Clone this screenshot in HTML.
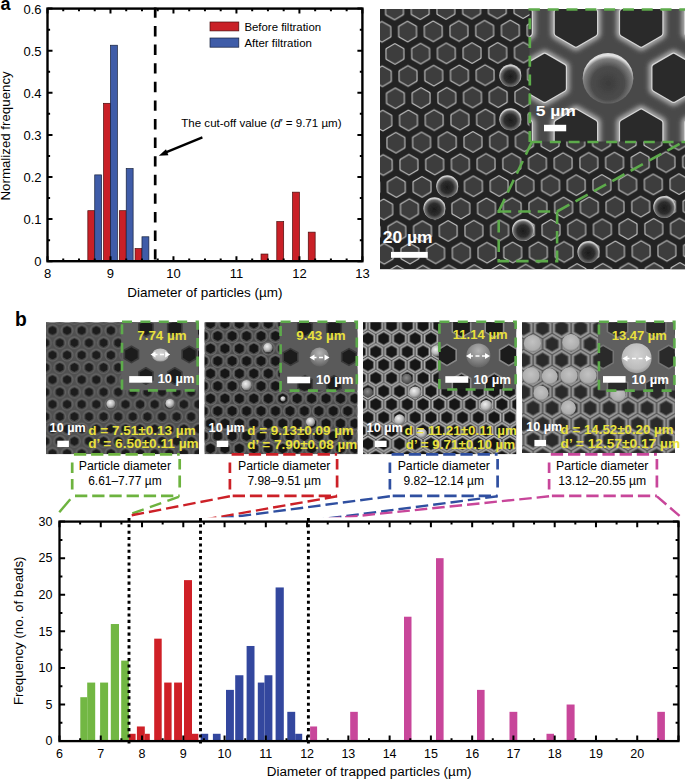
<!DOCTYPE html>
<html><head><meta charset="utf-8"><title>Figure</title>
<style>html,body{margin:0;padding:0;background:#fff}svg{display:block}text{font-family:'Liberation Sans',sans-serif}</style>
</head><body>
<svg width="685" height="780" viewBox="0 0 685 780">
<rect width="685" height="780" fill="#fff"/>
<defs>
<filter id="bl03" x="-5%" y="-5%" width="110%" height="110%"><feGaussianBlur stdDeviation="0.45"/></filter>
<filter id="bl06" x="-5%" y="-5%" width="110%" height="110%"><feGaussianBlur stdDeviation="0.6"/></filter>
<filter id="bl1" x="-5%" y="-5%" width="110%" height="110%"><feGaussianBlur stdDeviation="1.0"/></filter>
<filter id="bl2" x="-10%" y="-10%" width="120%" height="120%"><feGaussianBlur stdDeviation="2.0"/></filter>
<radialGradient id="ballA" cx="0.5" cy="0.55" r="0.5"><stop offset="0" stop-color="#1c1c1c"/><stop offset="0.55" stop-color="#2e2e2e"/><stop offset="0.85" stop-color="#6a6a6a"/><stop offset="1" stop-color="#d0d0d0"/></radialGradient>
<radialGradient id="ballIn" cx="0.5" cy="0.6" r="0.55"><stop offset="0" stop-color="#3c3c3c"/><stop offset="0.6" stop-color="#4c4c4c"/><stop offset="0.88" stop-color="#808080"/><stop offset="1" stop-color="#e0e0e0"/></radialGradient>
<radialGradient id="ballW" cx="0.4" cy="0.35" r="0.65"><stop offset="0" stop-color="#f0f0f0"/><stop offset="0.6" stop-color="#b8b8b8"/><stop offset="1" stop-color="#6a6a6a"/></radialGradient>
<radialGradient id="ballM" cx="0.5" cy="0.3" r="0.75"><stop offset="0" stop-color="#b4b4b4"/><stop offset="0.5" stop-color="#8c8c8c"/><stop offset="1" stop-color="#5c5c5c"/></radialGradient>
<radialGradient id="ballH" cx="0.5" cy="0.4" r="0.65"><stop offset="0" stop-color="#d4d4d4"/><stop offset="0.7" stop-color="#bcbcbc"/><stop offset="1" stop-color="#8a8a8a"/></radialGradient>
<radialGradient id="ballG" cx="0.45" cy="0.4" r="0.6"><stop offset="0" stop-color="#8a8a8a"/><stop offset="1" stop-color="#4a4a4a"/></radialGradient>
<radialGradient id="ballL" cx="0.5" cy="0.4" r="0.6"><stop offset="0" stop-color="#c2c2c2"/><stop offset="0.8" stop-color="#adadad"/><stop offset="1" stop-color="#808080"/></radialGradient>
<radialGradient id="hole1" cx="0.5" cy="0.5" r="0.5"><stop offset="0" stop-color="#161616"/><stop offset="0.6" stop-color="#1c1c1c"/><stop offset="0.78" stop-color="#484848"/><stop offset="1" stop-color="#6a6a6a" stop-opacity="0"/></radialGradient>
<pattern id="patA" patternUnits="userSpaceOnUse" x="394.50" y="9.50" width="25.70" height="44.40" patternTransform="rotate(-0.6 394.5 9.5)">
<polygon points="0.00,-9.50 -8.23,-4.75 -8.23,4.75 -0.00,9.50 8.23,4.75 8.23,-4.75" fill="none" stroke="#c0c0c0" stroke-width="2.55" stroke-linejoin="round"/><polygon points="0.00,-8.30 -7.19,-4.15 -7.19,4.15 -0.00,8.30 7.19,4.15 7.19,-4.15" fill="#3c3c3c" stroke="#3c3c3c" stroke-width="2.4" stroke-linejoin="round"/>
<polygon points="25.70,-9.50 17.47,-4.75 17.47,4.75 25.70,9.50 33.93,4.75 33.93,-4.75" fill="none" stroke="#c0c0c0" stroke-width="2.55" stroke-linejoin="round"/><polygon points="25.70,-8.30 18.51,-4.15 18.51,4.15 25.70,8.30 32.89,4.15 32.89,-4.15" fill="#3c3c3c" stroke="#3c3c3c" stroke-width="2.4" stroke-linejoin="round"/>
<polygon points="12.85,12.70 4.62,17.45 4.62,26.95 12.85,31.70 21.08,26.95 21.08,17.45" fill="none" stroke="#c0c0c0" stroke-width="2.55" stroke-linejoin="round"/><polygon points="12.85,13.90 5.66,18.05 5.66,26.35 12.85,30.50 20.04,26.35 20.04,18.05" fill="#3c3c3c" stroke="#3c3c3c" stroke-width="2.4" stroke-linejoin="round"/>
<polygon points="0.00,34.90 -8.23,39.65 -8.23,49.15 -0.00,53.90 8.23,49.15 8.23,39.65" fill="none" stroke="#c0c0c0" stroke-width="2.55" stroke-linejoin="round"/><polygon points="0.00,36.10 -7.19,40.25 -7.19,48.55 -0.00,52.70 7.19,48.55 7.19,40.25" fill="#3c3c3c" stroke="#3c3c3c" stroke-width="2.4" stroke-linejoin="round"/>
<polygon points="25.70,34.90 17.47,39.65 17.47,49.15 25.70,53.90 33.93,49.15 33.93,39.65" fill="none" stroke="#c0c0c0" stroke-width="2.55" stroke-linejoin="round"/><polygon points="25.70,36.10 18.51,40.25 18.51,48.55 25.70,52.70 32.89,48.55 32.89,40.25" fill="#3c3c3c" stroke="#3c3c3c" stroke-width="2.4" stroke-linejoin="round"/>
</pattern>
<pattern id="patB1" patternUnits="userSpaceOnUse" x="52.50" y="330.50" width="14.60" height="24.60">
<circle cx="0.00" cy="0.00" r="6.4" fill="#666666"/><circle cx="0.00" cy="0.30" r="5.2" fill="#4a4a4a"/><polygon points="0.00,-4.40 -3.81,-2.20 -3.81,2.20 -0.00,4.40 3.81,2.20 3.81,-2.20" fill="#1b1b1b"/>
<circle cx="14.60" cy="0.00" r="6.4" fill="#666666"/><circle cx="14.60" cy="0.30" r="5.2" fill="#4a4a4a"/><polygon points="14.60,-4.40 10.79,-2.20 10.79,2.20 14.60,4.40 18.41,2.20 18.41,-2.20" fill="#1b1b1b"/>
<circle cx="7.30" cy="12.30" r="6.4" fill="#666666"/><circle cx="7.30" cy="12.60" r="5.2" fill="#4a4a4a"/><polygon points="7.30,7.90 3.49,10.10 3.49,14.50 7.30,16.70 11.11,14.50 11.11,10.10" fill="#1b1b1b"/>
<circle cx="0.00" cy="24.60" r="6.4" fill="#666666"/><circle cx="0.00" cy="24.90" r="5.2" fill="#4a4a4a"/><polygon points="0.00,20.20 -3.81,22.40 -3.81,26.80 -0.00,29.00 3.81,26.80 3.81,22.40" fill="#1b1b1b"/>
<circle cx="14.60" cy="24.60" r="6.4" fill="#666666"/><circle cx="14.60" cy="24.90" r="5.2" fill="#4a4a4a"/><polygon points="14.60,20.20 10.79,22.40 10.79,26.80 14.60,29.00 18.41,26.80 18.41,22.40" fill="#1b1b1b"/>
</pattern>
<pattern id="patB2" patternUnits="userSpaceOnUse" x="217.70" y="336.00" width="14.45" height="25.00">
<circle cx="0.00" cy="0.00" r="6.9" fill="#6c6c6c"/><circle cx="0.00" cy="0.30" r="5.6" fill="#4c4c4c"/><polygon points="0.00,-4.90 -4.24,-2.45 -4.24,2.45 -0.00,4.90 4.24,2.45 4.24,-2.45" fill="#151515"/>
<circle cx="14.45" cy="0.00" r="6.9" fill="#6c6c6c"/><circle cx="14.45" cy="0.30" r="5.6" fill="#4c4c4c"/><polygon points="14.45,-4.90 10.21,-2.45 10.21,2.45 14.45,4.90 18.69,2.45 18.69,-2.45" fill="#151515"/>
<circle cx="7.22" cy="12.50" r="6.9" fill="#6c6c6c"/><circle cx="7.22" cy="12.80" r="5.6" fill="#4c4c4c"/><polygon points="7.22,7.60 2.98,10.05 2.98,14.95 7.22,17.40 11.47,14.95 11.47,10.05" fill="#151515"/>
<circle cx="0.00" cy="25.00" r="6.9" fill="#6c6c6c"/><circle cx="0.00" cy="25.30" r="5.6" fill="#4c4c4c"/><polygon points="0.00,20.10 -4.24,22.55 -4.24,27.45 -0.00,29.90 4.24,27.45 4.24,22.55" fill="#151515"/>
<circle cx="14.45" cy="25.00" r="6.9" fill="#6c6c6c"/><circle cx="14.45" cy="25.30" r="5.6" fill="#4c4c4c"/><polygon points="14.45,20.10 10.21,22.55 10.21,27.45 14.45,29.90 18.69,27.45 18.69,22.55" fill="#151515"/>
</pattern>
<pattern id="patB3" patternUnits="userSpaceOnUse" x="367.90" y="338.60" width="15.77" height="26.30">
<polygon points="0.00,-8.50 -7.36,-4.25 -7.36,4.25 -0.00,8.50 7.36,4.25 7.36,-4.25" fill="#b2b2b2"/><polygon points="0.00,-6.30 -5.46,-3.15 -5.46,3.15 -0.00,6.30 5.46,3.15 5.46,-3.15" fill="#121212" stroke="#5a5a5a" stroke-width="0.8"/>
<polygon points="15.77,-8.50 8.41,-4.25 8.41,4.25 15.77,8.50 23.13,4.25 23.13,-4.25" fill="#b2b2b2"/><polygon points="15.77,-6.30 10.31,-3.15 10.31,3.15 15.77,6.30 21.23,3.15 21.23,-3.15" fill="#121212" stroke="#5a5a5a" stroke-width="0.8"/>
<polygon points="7.89,4.65 0.52,8.90 0.52,17.40 7.88,21.65 15.25,17.40 15.25,8.90" fill="#b2b2b2"/><polygon points="7.88,6.85 2.43,10.00 2.43,16.30 7.88,19.45 13.34,16.30 13.34,10.00" fill="#121212" stroke="#5a5a5a" stroke-width="0.8"/>
<polygon points="0.00,17.80 -7.36,22.05 -7.36,30.55 -0.00,34.80 7.36,30.55 7.36,22.05" fill="#b2b2b2"/><polygon points="0.00,20.00 -5.46,23.15 -5.46,29.45 -0.00,32.60 5.46,29.45 5.46,23.15" fill="#121212" stroke="#5a5a5a" stroke-width="0.8"/>
<polygon points="15.77,17.80 8.41,22.05 8.41,30.55 15.77,34.80 23.13,30.55 23.13,22.05" fill="#b2b2b2"/><polygon points="15.77,20.00 10.31,23.15 10.31,29.45 15.77,32.60 21.23,29.45 21.23,23.15" fill="#121212" stroke="#5a5a5a" stroke-width="0.8"/>
</pattern>
<pattern id="patB4" patternUnits="userSpaceOnUse" x="523.60" y="328.10" width="19.00" height="32.00">
<polygon points="0.00,-10.20 -8.83,-5.10 -8.83,5.10 -0.00,10.20 8.83,5.10 8.83,-5.10" fill="#989898"/><polygon points="0.00,-7.40 -6.41,-3.70 -6.41,3.70 -0.00,7.40 6.41,3.70 6.41,-3.70" fill="#2c2c2c" stroke="#5c5c5c" stroke-width="1"/>
<polygon points="19.00,-10.20 10.17,-5.10 10.17,5.10 19.00,10.20 27.83,5.10 27.83,-5.10" fill="#989898"/><polygon points="19.00,-7.40 12.59,-3.70 12.59,3.70 19.00,7.40 25.41,3.70 25.41,-3.70" fill="#2c2c2c" stroke="#5c5c5c" stroke-width="1"/>
<polygon points="9.50,5.80 0.67,10.90 0.67,21.10 9.50,26.20 18.33,21.10 18.33,10.90" fill="#989898"/><polygon points="9.50,8.60 3.09,12.30 3.09,19.70 9.50,23.40 15.91,19.70 15.91,12.30" fill="#2c2c2c" stroke="#5c5c5c" stroke-width="1"/>
<polygon points="0.00,21.80 -8.83,26.90 -8.83,37.10 -0.00,42.20 8.83,37.10 8.83,26.90" fill="#989898"/><polygon points="0.00,24.60 -6.41,28.30 -6.41,35.70 -0.00,39.40 6.41,35.70 6.41,28.30" fill="#2c2c2c" stroke="#5c5c5c" stroke-width="1"/>
<polygon points="19.00,21.80 10.17,26.90 10.17,37.10 19.00,42.20 27.83,37.10 27.83,26.90" fill="#989898"/><polygon points="19.00,24.60 12.59,28.30 12.59,35.70 19.00,39.40 25.41,35.70 25.41,28.30" fill="#2c2c2c" stroke="#5c5c5c" stroke-width="1"/>
</pattern>
</defs>
<g id="chartA">
<rect x="87.83" y="210.68" width="6.9" height="50.52" fill="#c92027" stroke="#4a0c0c" stroke-width="0.7"/>
<rect x="103.58" y="103.32" width="6.9" height="157.88" fill="#c92027" stroke="#4a0c0c" stroke-width="0.7"/>
<rect x="119.32" y="210.68" width="6.9" height="50.52" fill="#c92027" stroke="#4a0c0c" stroke-width="0.7"/>
<rect x="135.07" y="248.57" width="6.9" height="12.63" fill="#c92027" stroke="#4a0c0c" stroke-width="0.7"/>
<rect x="261.03" y="254.04" width="6.9" height="7.16" fill="#c92027" stroke="#4a0c0c" stroke-width="0.7"/>
<rect x="276.78" y="221.63" width="6.9" height="39.57" fill="#c92027" stroke="#4a0c0c" stroke-width="0.7"/>
<rect x="292.52" y="192.16" width="6.9" height="69.04" fill="#c92027" stroke="#4a0c0c" stroke-width="0.7"/>
<rect x="308.26" y="232.15" width="6.9" height="29.05" fill="#c92027" stroke="#4a0c0c" stroke-width="0.7"/>
<rect x="94.73" y="174.89" width="6.9" height="86.31" fill="#3f5ca8" stroke="#16203c" stroke-width="0.7"/>
<rect x="110.48" y="45.23" width="6.9" height="215.97" fill="#3f5ca8" stroke="#16203c" stroke-width="0.7"/>
<rect x="126.22" y="168.58" width="6.9" height="92.62" fill="#3f5ca8" stroke="#16203c" stroke-width="0.7"/>
<rect x="141.97" y="236.78" width="6.9" height="24.42" fill="#3f5ca8" stroke="#16203c" stroke-width="0.7"/>
<path d="M47.50,261.2v-5M47.50,8.6v5M63.24,261.2v-2.6M63.24,8.6v2.6M78.99,261.2v-2.6M78.99,8.6v2.6M94.73,261.2v-2.6M94.73,8.6v2.6M110.48,261.2v-5M110.48,8.6v5M126.22,261.2v-2.6M126.22,8.6v2.6M141.97,261.2v-2.6M141.97,8.6v2.6M157.71,261.2v-2.6M157.71,8.6v2.6M173.46,261.2v-5M173.46,8.6v5M189.20,261.2v-2.6M189.20,8.6v2.6M204.95,261.2v-2.6M204.95,8.6v2.6M220.69,261.2v-2.6M220.69,8.6v2.6M236.44,261.2v-5M236.44,8.6v5M252.19,261.2v-2.6M252.19,8.6v2.6M267.93,261.2v-2.6M267.93,8.6v2.6M283.68,261.2v-2.6M283.68,8.6v2.6M299.42,261.2v-5M299.42,8.6v5M315.16,261.2v-2.6M315.16,8.6v2.6M330.91,261.2v-2.6M330.91,8.6v2.6M346.65,261.2v-2.6M346.65,8.6v2.6M362.40,261.2v-5M362.40,8.6v5M47.5,261.20h5M362.4,261.20h-5M47.5,240.15h2.6M362.4,240.15h-2.6M47.5,219.10h5M362.4,219.10h-5M47.5,198.05h2.6M362.4,198.05h-2.6M47.5,177.00h5M362.4,177.00h-5M47.5,155.95h2.6M362.4,155.95h-2.6M47.5,134.90h5M362.4,134.90h-5M47.5,113.85h2.6M362.4,113.85h-2.6M47.5,92.80h5M362.4,92.80h-5M47.5,71.75h2.6M362.4,71.75h-2.6M47.5,50.70h5M362.4,50.70h-5M47.5,29.65h2.6M362.4,29.65h-2.6M47.5,8.60h5M362.4,8.60h-5" stroke="#000" stroke-width="2" fill="none"/>
<rect x="47.5" y="8.6" width="314.90" height="252.60" fill="none" stroke="#000" stroke-width="2.4"/>
<line x1="155.20" y1="7.4" x2="155.20" y2="261.2" stroke="#000" stroke-width="2.7" stroke-dasharray="10.4 8.2"/>
<text x="41.5" y="266.10" font-size="13" text-anchor="end">0</text>
<text x="41.5" y="224.00" font-size="13" text-anchor="end">0.1</text>
<text x="41.5" y="181.90" font-size="13" text-anchor="end">0.2</text>
<text x="41.5" y="139.80" font-size="13" text-anchor="end">0.3</text>
<text x="41.5" y="97.70" font-size="13" text-anchor="end">0.4</text>
<text x="41.5" y="55.60" font-size="13" text-anchor="end">0.5</text>
<text x="41.5" y="13.50" font-size="13" text-anchor="end">0.6</text>
<text x="47.50" y="278.4" font-size="13" text-anchor="middle">8</text>
<text x="110.48" y="278.4" font-size="13" text-anchor="middle">9</text>
<text x="173.46" y="278.4" font-size="13" text-anchor="middle">10</text>
<text x="236.44" y="278.4" font-size="13" text-anchor="middle">11</text>
<text x="299.42" y="278.4" font-size="13" text-anchor="middle">12</text>
<text x="362.40" y="278.4" font-size="13" text-anchor="middle">13</text>
<text x="204.9" y="296.5" font-size="13" text-anchor="middle" textLength="155.3" lengthAdjust="spacingAndGlyphs">Diameter of particles (µm)</text>
<text transform="translate(9.8,135.9) rotate(-90)" font-size="12.5" text-anchor="middle" textLength="129.2" lengthAdjust="spacingAndGlyphs">Normalized frequency</text>
<rect x="210" y="22" width="28.8" height="8.9" fill="#c92027" stroke="#4a0c0c" stroke-width="0.7"/>
<rect x="210" y="38" width="28.8" height="9.2" fill="#3f5ca8" stroke="#16203c" stroke-width="0.7"/>
<text x="244.4" y="30.9" font-size="11.5" textLength="76.7" lengthAdjust="spacingAndGlyphs">Before filtration</text>
<text x="244.4" y="47" font-size="11.5" textLength="67.5" lengthAdjust="spacingAndGlyphs">After filtration</text>
<text x="181.3" y="127.3" font-size="11.5" textLength="160.2" lengthAdjust="spacingAndGlyphs">The cut-off value (<tspan font-style="italic">d</tspan>′ = 9.71 µm)</text>
<line x1="202.4" y1="137.4" x2="164" y2="153.1" stroke="#000" stroke-width="2.3"/>
<polygon points="158.8,155.8 166.0,149.2 168.4,155.2" fill="#000"/>
<text x="0.6" y="10.3" font-size="18" font-weight="bold">a</text>
</g>
<g id="semA">
<clipPath id="clipA"><rect x="380" y="9" width="305" height="260.4"/></clipPath>
<g clip-path="url(#clipA)">
<rect x="380" y="9" width="305" height="260.4" fill="#232323"/>
<g filter="url(#bl03)">
<rect x="380" y="9" width="305" height="260.4" fill="url(#patA)"/>
<circle cx="510.3" cy="75.6" r="11" fill="url(#ballA)"/>
<circle cx="510.3" cy="119.2" r="11" fill="url(#ballA)"/>
<circle cx="447.2" cy="186.2" r="11" fill="url(#ballA)"/>
<circle cx="434.4" cy="208.3" r="11" fill="url(#ballA)"/>
<circle cx="523.1" cy="229.9" r="11" fill="url(#ballA)"/>
<circle cx="588.4" cy="252" r="11" fill="url(#ballA)"/>
<circle cx="664.3" cy="206.9" r="11" fill="url(#ballA)"/>
</g>
<clipPath id="clipAi"><rect x="529.5" y="9" width="156" height="132.6"/></clipPath>
<g clip-path="url(#clipAi)"><g filter="url(#bl06)">
<rect x="520" y="0" width="170" height="150" fill="#4a4a4a"/>
<g filter="url(#bl2)">
<polygon points="575.90,1.10 557.28,11.85 557.28,33.35 575.90,44.10 594.52,33.35 594.52,11.85" fill="#2b2b2b" stroke="#a8a8a8" stroke-width="13" stroke-linejoin="round"/>
<polygon points="641.20,1.10 622.58,11.85 622.58,33.35 641.20,44.10 659.82,33.35 659.82,11.85" fill="#2b2b2b" stroke="#a8a8a8" stroke-width="13" stroke-linejoin="round"/>
<polygon points="544.70,56.30 526.08,67.05 526.08,88.55 544.70,99.30 563.32,88.55 563.32,67.05" fill="#2b2b2b" stroke="#a8a8a8" stroke-width="13" stroke-linejoin="round"/>
<polygon points="673.60,56.30 654.98,67.05 654.98,88.55 673.60,99.30 692.22,88.55 692.22,67.05" fill="#2b2b2b" stroke="#a8a8a8" stroke-width="13" stroke-linejoin="round"/>
<polygon points="575.90,112.10 557.28,122.85 557.28,144.35 575.90,155.10 594.52,144.35 594.52,122.85" fill="#2b2b2b" stroke="#a8a8a8" stroke-width="13" stroke-linejoin="round"/>
<polygon points="641.20,112.10 622.58,122.85 622.58,144.35 641.20,155.10 659.82,144.35 659.82,122.85" fill="#2b2b2b" stroke="#a8a8a8" stroke-width="13" stroke-linejoin="round"/>
<polygon points="510.60,1.10 491.98,11.85 491.98,33.35 510.60,44.10 529.22,33.35 529.22,11.85" fill="#2b2b2b" stroke="#a8a8a8" stroke-width="13" stroke-linejoin="round"/>
<polygon points="510.60,112.10 491.98,122.85 491.98,144.35 510.60,155.10 529.22,144.35 529.22,122.85" fill="#2b2b2b" stroke="#a8a8a8" stroke-width="13" stroke-linejoin="round"/>
<polygon points="706.50,1.10 687.88,11.85 687.88,33.35 706.50,44.10 725.12,33.35 725.12,11.85" fill="#2b2b2b" stroke="#a8a8a8" stroke-width="13" stroke-linejoin="round"/>
<polygon points="706.50,112.10 687.88,122.85 687.88,144.35 706.50,155.10 725.12,144.35 725.12,122.85" fill="#2b2b2b" stroke="#a8a8a8" stroke-width="13" stroke-linejoin="round"/>
</g>
<polygon points="575.90,1.10 557.28,11.85 557.28,33.35 575.90,44.10 594.52,33.35 594.52,11.85" fill="#2b2b2b" stroke="#d6d6d6" stroke-width="7.4" stroke-linejoin="round"/>
<polygon points="575.90,1.10 557.28,11.85 557.28,33.35 575.90,44.10 594.52,33.35 594.52,11.85" fill="#2b2b2b" stroke="#2b2b2b" stroke-width="5.0" stroke-linejoin="round"/>
<polygon points="641.20,1.10 622.58,11.85 622.58,33.35 641.20,44.10 659.82,33.35 659.82,11.85" fill="#2b2b2b" stroke="#d6d6d6" stroke-width="7.4" stroke-linejoin="round"/>
<polygon points="641.20,1.10 622.58,11.85 622.58,33.35 641.20,44.10 659.82,33.35 659.82,11.85" fill="#2b2b2b" stroke="#2b2b2b" stroke-width="5.0" stroke-linejoin="round"/>
<polygon points="544.70,56.30 526.08,67.05 526.08,88.55 544.70,99.30 563.32,88.55 563.32,67.05" fill="#2b2b2b" stroke="#d6d6d6" stroke-width="7.4" stroke-linejoin="round"/>
<polygon points="544.70,56.30 526.08,67.05 526.08,88.55 544.70,99.30 563.32,88.55 563.32,67.05" fill="#2b2b2b" stroke="#2b2b2b" stroke-width="5.0" stroke-linejoin="round"/>
<polygon points="673.60,56.30 654.98,67.05 654.98,88.55 673.60,99.30 692.22,88.55 692.22,67.05" fill="#2b2b2b" stroke="#d6d6d6" stroke-width="7.4" stroke-linejoin="round"/>
<polygon points="673.60,56.30 654.98,67.05 654.98,88.55 673.60,99.30 692.22,88.55 692.22,67.05" fill="#2b2b2b" stroke="#2b2b2b" stroke-width="5.0" stroke-linejoin="round"/>
<polygon points="575.90,112.10 557.28,122.85 557.28,144.35 575.90,155.10 594.52,144.35 594.52,122.85" fill="#2b2b2b" stroke="#d6d6d6" stroke-width="7.4" stroke-linejoin="round"/>
<polygon points="575.90,112.10 557.28,122.85 557.28,144.35 575.90,155.10 594.52,144.35 594.52,122.85" fill="#2b2b2b" stroke="#2b2b2b" stroke-width="5.0" stroke-linejoin="round"/>
<polygon points="641.20,112.10 622.58,122.85 622.58,144.35 641.20,155.10 659.82,144.35 659.82,122.85" fill="#2b2b2b" stroke="#d6d6d6" stroke-width="7.4" stroke-linejoin="round"/>
<polygon points="641.20,112.10 622.58,122.85 622.58,144.35 641.20,155.10 659.82,144.35 659.82,122.85" fill="#2b2b2b" stroke="#2b2b2b" stroke-width="5.0" stroke-linejoin="round"/>
<polygon points="510.60,1.10 491.98,11.85 491.98,33.35 510.60,44.10 529.22,33.35 529.22,11.85" fill="#2b2b2b" stroke="#d6d6d6" stroke-width="7.4" stroke-linejoin="round"/>
<polygon points="510.60,1.10 491.98,11.85 491.98,33.35 510.60,44.10 529.22,33.35 529.22,11.85" fill="#2b2b2b" stroke="#2b2b2b" stroke-width="5.0" stroke-linejoin="round"/>
<polygon points="510.60,112.10 491.98,122.85 491.98,144.35 510.60,155.10 529.22,144.35 529.22,122.85" fill="#2b2b2b" stroke="#d6d6d6" stroke-width="7.4" stroke-linejoin="round"/>
<polygon points="510.60,112.10 491.98,122.85 491.98,144.35 510.60,155.10 529.22,144.35 529.22,122.85" fill="#2b2b2b" stroke="#2b2b2b" stroke-width="5.0" stroke-linejoin="round"/>
<polygon points="706.50,1.10 687.88,11.85 687.88,33.35 706.50,44.10 725.12,33.35 725.12,11.85" fill="#2b2b2b" stroke="#d6d6d6" stroke-width="7.4" stroke-linejoin="round"/>
<polygon points="706.50,1.10 687.88,11.85 687.88,33.35 706.50,44.10 725.12,33.35 725.12,11.85" fill="#2b2b2b" stroke="#2b2b2b" stroke-width="5.0" stroke-linejoin="round"/>
<polygon points="706.50,112.10 687.88,122.85 687.88,144.35 706.50,155.10 725.12,144.35 725.12,122.85" fill="#2b2b2b" stroke="#d6d6d6" stroke-width="7.4" stroke-linejoin="round"/>
<polygon points="706.50,112.10 687.88,122.85 687.88,144.35 706.50,155.10 725.12,144.35 725.12,122.85" fill="#2b2b2b" stroke="#2b2b2b" stroke-width="5.0" stroke-linejoin="round"/>
<circle cx="608" cy="78.3" r="25.3" fill="url(#ballIn)"/>
</g></g>
</g>
<path d="M529.8,142V9.5H686M531,142H686" fill="none" stroke="#5dab4b" stroke-width="2.7" stroke-dasharray="11 7.8"/>
<path d="M498.7,211.5H557.1V261.1H498.7Z" fill="none" stroke="#5dab4b" stroke-width="2.6" stroke-dasharray="12.5 7"/>
<path d="M498.7,211.5L531.7,142.3M557.1,211.5L685,140.8" fill="none" stroke="#5dab4b" stroke-width="2.6" stroke-dasharray="14 7"/>
<text x="382.8" y="243.4" font-size="16.5" font-weight="bold" fill="#fff" textLength="49.8" lengthAdjust="spacingAndGlyphs">20 µm</text>
<rect x="391" y="251.9" width="36.7" height="5.9" fill="#fff"/>
<text x="535.7" y="115.8" font-size="14.5" font-weight="bold" fill="#fff" textLength="40.2" lengthAdjust="spacingAndGlyphs">5 µm</text>
<rect x="544" y="124.8" width="22.2" height="6.5" fill="#fff"/>
</g>
<text x="15.0" y="326.1" font-size="19.3" font-weight="bold">b</text>
<g id="semB1">
<clipPath id="clipB1"><rect x="46" y="322.2" width="153.0" height="132.0"/></clipPath>
<g clip-path="url(#clipB1)">
<rect x="46" y="322.2" width="153.0" height="132.0" fill="#505050"/>
<g filter="url(#bl06)">
<rect x="46" y="322.2" width="153.0" height="132.0" fill="url(#patB1)"/>
<circle cx="111" cy="404" r="4.6" fill="url(#ballW)"/>
<circle cx="170" cy="403.6" r="4.6" fill="url(#ballW)"/>
</g>
<clipPath id="clipI1"><rect x="121.2" y="321.5" width="76.8" height="68.7"/></clipPath>
<g clip-path="url(#clipI1)"><g filter="url(#bl06)">
<rect x="118.2" y="318.5" width="82.8" height="74.7" fill="#5e5e5e"/>
<polygon points="131.40,346.20 124.30,350.30 124.30,358.50 131.40,362.60 138.50,358.50 138.50,350.30" fill="#1e1e1e" stroke="#3a3a3a" stroke-width="1.6" stroke-linejoin="round"/>
<polygon points="189.20,346.20 182.10,350.30 182.10,358.50 189.20,362.60 196.30,358.50 196.30,350.30" fill="#1e1e1e" stroke="#3a3a3a" stroke-width="1.6" stroke-linejoin="round"/>
<polygon points="145.90,319.80 138.80,323.90 138.80,332.10 145.90,336.20 153.00,332.10 153.00,323.90" fill="#1e1e1e" stroke="#3a3a3a" stroke-width="1.6" stroke-linejoin="round"/>
<polygon points="174.80,319.80 167.70,323.90 167.70,332.10 174.80,336.20 181.90,332.10 181.90,323.90" fill="#1e1e1e" stroke="#3a3a3a" stroke-width="1.6" stroke-linejoin="round"/>
<polygon points="145.90,367.80 138.80,371.90 138.80,380.10 145.90,384.20 153.00,380.10 153.00,371.90" fill="#1e1e1e" stroke="#3a3a3a" stroke-width="1.6" stroke-linejoin="round"/>
<polygon points="174.80,367.80 167.70,371.90 167.70,380.10 174.80,384.20 181.90,380.10 181.90,371.90" fill="#1e1e1e" stroke="#3a3a3a" stroke-width="1.6" stroke-linejoin="round"/>
<ellipse cx="160.3" cy="355" rx="8.3" ry="6.6" fill="url(#ballH)"/>
</g></g>
</g>
<rect x="122.0" y="321.7" width="75.6" height="68.7" fill="none" stroke="#5dab4b" stroke-width="2.6" stroke-dasharray="10 8.4" stroke-dashoffset="0"/>
<text x="137.3" y="339.7" font-size="13" font-weight="bold" fill="#e9e13c" textLength="49.3" lengthAdjust="spacingAndGlyphs">7.74 µm</text>
<line x1="153.5" y1="354.4" x2="167.2" y2="354.4" stroke="#fff" stroke-width="1.5" stroke-dasharray="4 2.5"/><polygon points="150.5,354.4 155.5,351.4 155.5,357.4" fill="#fff"/><polygon points="170.2,354.4 165.2,351.4 165.2,357.4" fill="#fff"/>
<rect x="129.2" y="376.1" width="23" height="6.6" fill="#fff"/>
<text x="157.7" y="383.3" font-size="12.5" font-weight="bold" fill="#fff" textLength="36.8" lengthAdjust="spacingAndGlyphs">10 µm</text>
<text x="49.6" y="431.8" font-size="12.5" font-weight="bold" fill="#fff" textLength="36.2" lengthAdjust="spacingAndGlyphs">10 µm</text>
<rect x="57.3" y="440.7" width="11.6" height="6.3" fill="#fff"/>
<text x="88.2" y="434.7" font-size="13.5" font-weight="bold" fill="#e9e13c" textLength="107.5" lengthAdjust="spacingAndGlyphs">d = 7.51±0.13 µm</text>
<text x="88.2" y="448.2" font-size="13.5" font-weight="bold" fill="#e9e13c" textLength="110.5" lengthAdjust="spacingAndGlyphs">d’ = 6.50±0.11 µm</text>
</g>
<g id="semB2">
<clipPath id="clipB2"><rect x="204.4" y="322.2" width="153.2" height="132.0"/></clipPath>
<g clip-path="url(#clipB2)">
<rect x="204.4" y="322.2" width="153.2" height="132.0" fill="#4c4c4c"/>
<g filter="url(#bl06)">
<rect x="204.4" y="322.2" width="153.2" height="132.0" fill="url(#patB2)"/>
<circle cx="268" cy="347.8" r="4.8" fill="url(#ballW)"/>
<circle cx="246.6" cy="385.3" r="5.2" fill="url(#ballW)"/>
<circle cx="310.6" cy="422" r="4.6" fill="url(#ballW)"/>
<circle cx="283" cy="398.8" r="2.6" fill="url(#ballW)"/>
</g>
<clipPath id="clipI2"><rect x="279.8" y="321.5" width="77.4" height="68.9"/></clipPath>
<g clip-path="url(#clipI2)"><g filter="url(#bl06)">
<rect x="276.8" y="318.5" width="83.4" height="74.9" fill="#5a5a5a"/>
<polygon points="290.50,348.60 283.23,352.80 283.23,361.20 290.50,365.40 297.77,361.20 297.77,352.80" fill="#1c1c1c" stroke="#3a3a3a" stroke-width="1.6" stroke-linejoin="round"/>
<polygon points="349.00,348.60 341.73,352.80 341.73,361.20 349.00,365.40 356.27,361.20 356.27,352.80" fill="#1c1c1c" stroke="#3a3a3a" stroke-width="1.6" stroke-linejoin="round"/>
<polygon points="305.00,319.60 297.73,323.80 297.73,332.20 305.00,336.40 312.27,332.20 312.27,323.80" fill="#1c1c1c" stroke="#3a3a3a" stroke-width="1.6" stroke-linejoin="round"/>
<polygon points="334.00,319.60 326.73,323.80 326.73,332.20 334.00,336.40 341.27,332.20 341.27,323.80" fill="#1c1c1c" stroke="#3a3a3a" stroke-width="1.6" stroke-linejoin="round"/>
<polygon points="305.00,375.60 297.73,379.80 297.73,388.20 305.00,392.40 312.27,388.20 312.27,379.80" fill="#1c1c1c" stroke="#3a3a3a" stroke-width="1.6" stroke-linejoin="round"/>
<polygon points="334.00,375.60 326.73,379.80 326.73,388.20 334.00,392.40 341.27,388.20 341.27,379.80" fill="#1c1c1c" stroke="#3a3a3a" stroke-width="1.6" stroke-linejoin="round"/>
<ellipse cx="319.5" cy="357" rx="9.5" ry="9.5" fill="url(#ballM)"/>
</g></g>
</g>
<rect x="280.6" y="321.7" width="76.2" height="68.9" fill="none" stroke="#5dab4b" stroke-width="2.6" stroke-dasharray="10 8.4" stroke-dashoffset="0"/>
<text x="296.3" y="339.7" font-size="13" font-weight="bold" fill="#e9e13c" textLength="49.3" lengthAdjust="spacingAndGlyphs">9.43 µm</text>
<line x1="312.5" y1="357.4" x2="326.5" y2="357.4" stroke="#fff" stroke-width="1.5" stroke-dasharray="4 2.5"/><polygon points="309.5,357.4 314.5,354.4 314.5,360.4" fill="#fff"/><polygon points="329.5,357.4 324.5,354.4 324.5,360.4" fill="#fff"/>
<rect x="287.2" y="376.7" width="23" height="6.6" fill="#fff"/>
<text x="315.9" y="384.2" font-size="12.5" font-weight="bold" fill="#fff" textLength="37.5" lengthAdjust="spacingAndGlyphs">10 µm</text>
<text x="208.6" y="431.8" font-size="12.5" font-weight="bold" fill="#fff" textLength="36.2" lengthAdjust="spacingAndGlyphs">10 µm</text>
<rect x="216.7" y="440.7" width="11.6" height="6.3" fill="#fff"/>
<text x="247.3" y="435.4" font-size="13.5" font-weight="bold" fill="#e9e13c" textLength="106.5" lengthAdjust="spacingAndGlyphs">d = 9.13±0.09 µm</text>
<text x="247.3" y="448.9" font-size="13.5" font-weight="bold" fill="#e9e13c" textLength="110.0" lengthAdjust="spacingAndGlyphs">d’ = 7.90±0.08 µm</text>
</g>
<g id="semB3">
<clipPath id="clipB3"><rect x="363" y="322.2" width="153.4" height="132.0"/></clipPath>
<g clip-path="url(#clipB3)">
<rect x="363" y="322.2" width="153.4" height="132.0" fill="#2c2c2c"/>
<g filter="url(#bl06)">
<rect x="363" y="322.2" width="153.4" height="132.0" fill="url(#patB3)"/>
<circle cx="436.8" cy="351" r="5.5" fill="url(#ballW)"/>
<circle cx="415.2" cy="392.6" r="6" fill="url(#ballW)"/>
<circle cx="486.3" cy="406" r="6" fill="url(#ballW)"/>
<circle cx="399.6" cy="419.8" r="5.5" fill="url(#ballW)"/>
<circle cx="422" cy="433.5" r="5" fill="url(#ballW)"/>
<circle cx="368" cy="392.5" r="5" fill="url(#ballG)"/>
<circle cx="406.8" cy="378.8" r="5" fill="url(#ballG)"/>
</g>
<clipPath id="clipI3"><rect x="438.6" y="321.5" width="77.4" height="67.8"/></clipPath>
<g clip-path="url(#clipI3)"><g filter="url(#bl06)">
<rect x="435.6" y="318.5" width="83.4" height="73.8" fill="#585858"/>
<polygon points="447.00,344.40 437.82,349.70 437.82,360.30 447.00,365.60 456.18,360.30 456.18,349.70" fill="#1c1c1c" stroke="#888888" stroke-width="1.6" stroke-linejoin="round"/>
<polygon points="508.80,344.40 499.62,349.70 499.62,360.30 508.80,365.60 517.98,360.30 517.98,349.70" fill="#1c1c1c" stroke="#888888" stroke-width="1.6" stroke-linejoin="round"/>
<polygon points="461.50,316.20 452.32,321.50 452.32,332.10 461.50,337.40 470.68,332.10 470.68,321.50" fill="#1c1c1c" stroke="#888888" stroke-width="1.6" stroke-linejoin="round"/>
<polygon points="494.40,316.20 485.22,321.50 485.22,332.10 494.40,337.40 503.58,332.10 503.58,321.50" fill="#1c1c1c" stroke="#888888" stroke-width="1.6" stroke-linejoin="round"/>
<polygon points="461.50,373.20 452.32,378.50 452.32,389.10 461.50,394.40 470.68,389.10 470.68,378.50" fill="#1c1c1c" stroke="#888888" stroke-width="1.6" stroke-linejoin="round"/>
<polygon points="494.40,373.20 485.22,378.50 485.22,389.10 494.40,394.40 503.58,389.10 503.58,378.50" fill="#1c1c1c" stroke="#888888" stroke-width="1.6" stroke-linejoin="round"/>
<ellipse cx="478.4" cy="355.5" rx="12" ry="12" fill="url(#ballM)"/>
</g></g>
</g>
<rect x="439.40000000000003" y="321.7" width="76.2" height="67.8" fill="none" stroke="#5dab4b" stroke-width="2.6" stroke-dasharray="10 8.4" stroke-dashoffset="0"/>
<text x="452.8" y="339" font-size="13" font-weight="bold" fill="#e9e13c" textLength="54.8" lengthAdjust="spacingAndGlyphs">11.14 µm</text>
<line x1="469" y1="356" x2="487" y2="356" stroke="#fff" stroke-width="1.5" stroke-dasharray="4 2.5"/><polygon points="466,356 471,353 471,359" fill="#fff"/><polygon points="490,356 485,353 485,359" fill="#fff"/>
<rect x="445.3" y="376.2" width="23" height="6.6" fill="#fff"/>
<text x="473.5" y="383.7" font-size="12.5" font-weight="bold" fill="#fff" textLength="37.5" lengthAdjust="spacingAndGlyphs">10 µm</text>
<text x="366.6" y="432" font-size="12.5" font-weight="bold" fill="#fff" textLength="36.2" lengthAdjust="spacingAndGlyphs">10 µm</text>
<rect x="375" y="440.7" width="11.6" height="6.3" fill="#fff"/>
<text x="404.4" y="435" font-size="13.5" font-weight="bold" fill="#e9e13c" textLength="112.5" lengthAdjust="spacingAndGlyphs">d = 11.21±0.11 µm</text>
<text x="405.8" y="448.6" font-size="13.5" font-weight="bold" fill="#e9e13c" textLength="109.5" lengthAdjust="spacingAndGlyphs">d’ = 9.71±0.10 µm</text>
</g>
<g id="semB4">
<clipPath id="clipB4"><rect x="522" y="322.2" width="153.0" height="130.7"/></clipPath>
<g clip-path="url(#clipB4)">
<rect x="522" y="322.2" width="153.0" height="130.7" fill="#484848"/>
<g filter="url(#bl06)">
<rect x="522" y="322.2" width="153.0" height="130.7" fill="url(#patB4)"/>
<circle cx="532.4" cy="343.5" r="8.6" fill="url(#ballL)"/>
<circle cx="570.8" cy="342.6" r="8.6" fill="url(#ballL)"/>
<circle cx="531" cy="375.8" r="8.6" fill="url(#ballL)"/>
<circle cx="549.7" cy="376.6" r="8" fill="url(#ballL)"/>
<circle cx="569" cy="375.8" r="8.6" fill="url(#ballL)"/>
<circle cx="588" cy="375.8" r="8.6" fill="url(#ballL)"/>
<circle cx="541" cy="393.2" r="7.5" fill="url(#ballL)"/>
<circle cx="568.4" cy="408" r="7.5" fill="url(#ballL)"/>
<circle cx="618" cy="394.4" r="7.5" fill="url(#ballL)"/>
</g>
<clipPath id="clipI4"><rect x="598.1" y="321.5" width="76.7" height="68.9"/></clipPath>
<g clip-path="url(#clipI4)"><g filter="url(#bl06)">
<rect x="595.1" y="318.5" width="82.7" height="74.9" fill="#5e5e5e"/>
<polygon points="603.10,345.20 592.88,351.10 592.88,362.90 603.10,368.80 613.32,362.90 613.32,351.10" fill="#2a2a2a" stroke="#747474" stroke-width="1.6" stroke-linejoin="round"/>
<polygon points="668.80,345.20 658.58,351.10 658.58,362.90 668.80,368.80 679.02,362.90 679.02,351.10" fill="#2a2a2a" stroke="#747474" stroke-width="1.6" stroke-linejoin="round"/>
<polygon points="617.60,314.20 607.38,320.10 607.38,331.90 617.60,337.80 627.82,331.90 627.82,320.10" fill="#2a2a2a" stroke="#747474" stroke-width="1.6" stroke-linejoin="round"/>
<polygon points="655.70,314.20 645.48,320.10 645.48,331.90 655.70,337.80 665.92,331.90 665.92,320.10" fill="#2a2a2a" stroke="#747474" stroke-width="1.6" stroke-linejoin="round"/>
<polygon points="617.60,376.80 607.38,382.70 607.38,394.50 617.60,400.40 627.82,394.50 627.82,382.70" fill="#2a2a2a" stroke="#747474" stroke-width="1.6" stroke-linejoin="round"/>
<polygon points="655.70,376.80 645.48,382.70 645.48,394.50 655.70,400.40 665.92,394.50 665.92,382.70" fill="#2a2a2a" stroke="#747474" stroke-width="1.6" stroke-linejoin="round"/>
<ellipse cx="636.6" cy="358.2" rx="15" ry="15" fill="url(#ballH)"/>
</g></g>
</g>
<rect x="598.9" y="321.7" width="75.5" height="68.9" fill="none" stroke="#5dab4b" stroke-width="2.6" stroke-dasharray="10 8.4" stroke-dashoffset="0"/>
<text x="611.7" y="339.5" font-size="13" font-weight="bold" fill="#e9e13c" textLength="55.2" lengthAdjust="spacingAndGlyphs">13.47 µm</text>
<line x1="625.5" y1="358.4" x2="648" y2="358.4" stroke="#fff" stroke-width="1.5" stroke-dasharray="4 2.5"/><polygon points="622.5,358.4 627.5,355.4 627.5,361.4" fill="#fff"/><polygon points="651,358.4 646,355.4 646,361.4" fill="#fff"/>
<rect x="603" y="376.1" width="22.6" height="6.6" fill="#fff"/>
<text x="631.4" y="384" font-size="12.5" font-weight="bold" fill="#fff" textLength="37.5" lengthAdjust="spacingAndGlyphs">10 µm</text>
<text x="526.2" y="431" font-size="12.5" font-weight="bold" fill="#fff" textLength="36.2" lengthAdjust="spacingAndGlyphs">10 µm</text>
<rect x="534.4" y="439.9" width="11.6" height="6.3" fill="#fff"/>
<text x="560.6" y="434.2" font-size="13.5" font-weight="bold" fill="#e9e13c" textLength="113" lengthAdjust="spacingAndGlyphs">d = 14.52±0.20 µm</text>
<text x="560.6" y="447.6" font-size="13.5" font-weight="bold" fill="#e9e13c" textLength="119.5" lengthAdjust="spacingAndGlyphs">d’ = 12.57±0.17  µm</text>
</g>
<path d="M73.9,454.3H179.7M75.0,495.8H179.7" fill="none" stroke="#6db33f" stroke-width="2.7" stroke-dasharray="12.3 4.9"/>
<path d="M72.2,462.5V473M72.2,478.9V489.4M179.7,459V469.5M179.7,475.4V487.6" fill="none" stroke="#6db33f" stroke-width="2.7"/>
<path d="M70.3,499.3L59.3,512.2" fill="none" stroke="#6db33f" stroke-width="2.4"/>
<path d="M178.7,496.9L130.7,514.1" fill="none" stroke="#6db33f" stroke-width="2.4" stroke-dasharray="12 6.6"/>
<text x="124.9" y="470.3" font-size="12.3" text-anchor="middle" textLength="92.3" lengthAdjust="spacingAndGlyphs">Particle diameter</text>
<text x="124.9" y="484.8" font-size="12.3" text-anchor="middle" textLength="73.5" lengthAdjust="spacingAndGlyphs">6.61–7.77 µm</text>
<path d="M231.6,454.3H337.1M232.70000000000002,495.8H337.1" fill="none" stroke="#cc2027" stroke-width="2.7" stroke-dasharray="12.3 4.9"/>
<path d="M229.9,462.5V473M229.9,478.9V489.4M337.1,459V469.5M337.1,475.4V487.6" fill="none" stroke="#cc2027" stroke-width="2.7"/>
<path d="M229.9,496.3L129.5,515.7M337.1,496.3L200.5,520.3" fill="none" stroke="#cc2027" stroke-width="2.4" stroke-dasharray="12.5 5"/>
<text x="284.2" y="470.3" font-size="12.3" text-anchor="middle" textLength="92.3" lengthAdjust="spacingAndGlyphs">Particle diameter</text>
<text x="284.2" y="484.8" font-size="12.3" text-anchor="middle" textLength="73.5" lengthAdjust="spacingAndGlyphs">7.98–9.51 µm</text>
<path d="M391.59999999999997,454.3H497.6M392.7,495.8H497.6" fill="none" stroke="#2f4fa0" stroke-width="2.7" stroke-dasharray="12.3 4.9"/>
<path d="M389.9,462.5V473M389.9,478.9V489.4M497.6,459V469.5M497.6,475.4V487.6" fill="none" stroke="#2f4fa0" stroke-width="2.7"/>
<path d="M389.9,496.3L200.5,521.3M497.6,496.3L308.4,521.0" fill="none" stroke="#2f4fa0" stroke-width="2.4" stroke-dasharray="12.5 5"/>
<text x="443.8" y="470.3" font-size="12.3" text-anchor="middle" textLength="92.3" lengthAdjust="spacingAndGlyphs">Particle diameter</text>
<text x="443.8" y="484.8" font-size="12.3" text-anchor="middle" textLength="80.5" lengthAdjust="spacingAndGlyphs">9.82–12.14 µm</text>
<path d="M550.8000000000001,454.3H656.9M551.9,495.8H656.9" fill="none" stroke="#c8469a" stroke-width="2.7" stroke-dasharray="12.3 4.9"/>
<path d="M549.1,462.5V473M549.1,478.9V489.4M656.9,459V469.5M656.9,475.4V487.6" fill="none" stroke="#c8469a" stroke-width="2.7"/>
<path d="M549.1,496.3L308.4,521.0M656.9,496.3L682.0,518.0" fill="none" stroke="#c8469a" stroke-width="2.4" stroke-dasharray="12.5 5"/>
<text x="602.2" y="470.3" font-size="12.3" text-anchor="middle" textLength="92.3" lengthAdjust="spacingAndGlyphs">Particle diameter</text>
<text x="602.2" y="484.8" font-size="12.3" text-anchor="middle" textLength="88" lengthAdjust="spacingAndGlyphs">13.12–20.55 µm</text>
<g id="chartB">
<rect x="0" y="517.3" width="685" height="262.7" fill="#fff"/>
<rect x="80.3" y="697.20" width="6.90" height="43.90" fill="#72b743"/>
<rect x="87.2" y="682.57" width="8.00" height="58.53" fill="#72b743"/>
<rect x="100.1" y="682.57" width="8.00" height="58.53" fill="#72b743"/>
<rect x="110.8" y="624.03" width="8.20" height="117.07" fill="#72b743"/>
<rect x="121.2" y="660.62" width="7.70" height="80.48" fill="#72b743"/>
<rect x="128.9" y="733.78" width="6.70" height="7.32" fill="#cf2027"/>
<rect x="136.9" y="726.47" width="7.90" height="14.63" fill="#cf2027"/>
<rect x="144.8" y="733.78" width="5.00" height="7.32" fill="#cf2027"/>
<rect x="154.2" y="638.67" width="7.50" height="102.43" fill="#cf2027"/>
<rect x="164.2" y="682.57" width="7.40" height="58.53" fill="#cf2027"/>
<rect x="174.1" y="682.57" width="7.90" height="58.53" fill="#cf2027"/>
<rect x="184.0" y="580.13" width="8.00" height="160.97" fill="#cf2027"/>
<rect x="192.0" y="733.78" width="6.40" height="7.32" fill="#cf2027"/>
<rect x="200.6" y="733.78" width="7.60" height="7.32" fill="#33479e"/>
<rect x="212.9" y="733.78" width="7.70" height="7.32" fill="#33479e"/>
<rect x="226.0" y="689.88" width="7.90" height="51.22" fill="#33479e"/>
<rect x="235.2" y="675.25" width="8.20" height="65.85" fill="#33479e"/>
<rect x="246.6" y="645.98" width="7.90" height="95.12" fill="#33479e"/>
<rect x="257.8" y="682.57" width="6.70" height="58.53" fill="#33479e"/>
<rect x="264.5" y="675.25" width="7.90" height="65.85" fill="#33479e"/>
<rect x="275.6" y="587.45" width="8.20" height="153.65" fill="#33479e"/>
<rect x="287.3" y="711.83" width="7.90" height="29.27" fill="#33479e"/>
<rect x="295.2" y="733.78" width="7.00" height="7.32" fill="#33479e"/>
<rect x="310.1" y="726.47" width="7.00" height="14.63" fill="#c8469a"/>
<rect x="350.2" y="711.83" width="7.60" height="29.27" fill="#c8469a"/>
<rect x="404.0" y="616.72" width="7.50" height="124.38" fill="#c8469a"/>
<rect x="436.0" y="558.18" width="7.60" height="182.92" fill="#c8469a"/>
<rect x="477.0" y="689.88" width="7.60" height="51.22" fill="#c8469a"/>
<rect x="509.5" y="711.83" width="7.80" height="29.27" fill="#c8469a"/>
<rect x="546.5" y="733.78" width="7.50" height="7.32" fill="#c8469a"/>
<rect x="566.6" y="704.52" width="8.00" height="36.58" fill="#c8469a"/>
<rect x="657.3" y="711.83" width="7.60" height="29.27" fill="#c8469a"/>
<path d="M59.50,741.1v-5.6M59.50,521.6v5.6M80.13,741.1v-2.9M80.13,521.6v2.9M100.77,741.1v-5.6M100.77,521.6v5.6M121.40,741.1v-2.9M121.40,521.6v2.9M142.03,741.1v-5.6M142.03,521.6v5.6M162.67,741.1v-2.9M162.67,521.6v2.9M183.30,741.1v-5.6M183.30,521.6v5.6M203.93,741.1v-2.9M203.93,521.6v2.9M224.57,741.1v-5.6M224.57,521.6v5.6M245.20,741.1v-2.9M245.20,521.6v2.9M265.83,741.1v-5.6M265.83,521.6v5.6M286.47,741.1v-2.9M286.47,521.6v2.9M307.10,741.1v-5.6M307.10,521.6v5.6M327.73,741.1v-2.9M327.73,521.6v2.9M348.37,741.1v-5.6M348.37,521.6v5.6M369.00,741.1v-2.9M369.00,521.6v2.9M389.63,741.1v-5.6M389.63,521.6v5.6M410.27,741.1v-2.9M410.27,521.6v2.9M430.90,741.1v-5.6M430.90,521.6v5.6M451.53,741.1v-2.9M451.53,521.6v2.9M472.17,741.1v-5.6M472.17,521.6v5.6M492.80,741.1v-2.9M492.80,521.6v2.9M513.43,741.1v-5.6M513.43,521.6v5.6M534.07,741.1v-2.9M534.07,521.6v2.9M554.70,741.1v-5.6M554.70,521.6v5.6M575.33,741.1v-2.9M575.33,521.6v2.9M595.97,741.1v-5.6M595.97,521.6v5.6M616.60,741.1v-2.9M616.60,521.6v2.9M637.23,741.1v-5.6M637.23,521.6v5.6M657.87,741.1v-2.9M657.87,521.6v2.9M678.50,741.1v-5.6M678.50,521.6v5.6M59.5,741.10h5.6M678.5,741.10h-5.6M59.5,722.81h2.9M678.5,722.81h-2.9M59.5,704.52h5.6M678.5,704.52h-5.6M59.5,686.23h2.9M678.5,686.23h-2.9M59.5,667.93h5.6M678.5,667.93h-5.6M59.5,649.64h2.9M678.5,649.64h-2.9M59.5,631.35h5.6M678.5,631.35h-5.6M59.5,613.06h2.9M678.5,613.06h-2.9M59.5,594.77h5.6M678.5,594.77h-5.6M59.5,576.48h2.9M678.5,576.48h-2.9M59.5,558.18h5.6M678.5,558.18h-5.6M59.5,539.89h2.9M678.5,539.89h-2.9M59.5,521.60h5.6M678.5,521.60h-5.6" stroke="#000" stroke-width="2" fill="none"/>
<rect x="59.5" y="521.6" width="619.0" height="219.50" fill="none" stroke="#000" stroke-width="2.3"/>
<line x1="129.0" y1="517.9" x2="129.0" y2="743.4" stroke="#000" stroke-width="2.9" stroke-dasharray="3.1 3.27"/>
<line x1="200.5" y1="517.9" x2="200.5" y2="743.4" stroke="#000" stroke-width="2.9" stroke-dasharray="3.1 3.27"/>
<line x1="308.4" y1="517.9" x2="308.4" y2="743.4" stroke="#000" stroke-width="2.9" stroke-dasharray="3.1 3.27"/>
<text x="52.4" y="745.40" font-size="12.5" text-anchor="end">0</text>
<text x="52.4" y="708.82" font-size="12.5" text-anchor="end">5</text>
<text x="52.4" y="672.23" font-size="12.5" text-anchor="end">10</text>
<text x="52.4" y="635.65" font-size="12.5" text-anchor="end">15</text>
<text x="52.4" y="599.07" font-size="12.5" text-anchor="end">20</text>
<text x="52.4" y="562.48" font-size="12.5" text-anchor="end">25</text>
<text x="52.4" y="525.90" font-size="12.5" text-anchor="end">30</text>
<text x="59.50" y="757.6" font-size="12.5" text-anchor="middle">6</text>
<text x="100.77" y="757.6" font-size="12.5" text-anchor="middle">7</text>
<text x="142.03" y="757.6" font-size="12.5" text-anchor="middle">8</text>
<text x="183.30" y="757.6" font-size="12.5" text-anchor="middle">9</text>
<text x="224.57" y="757.6" font-size="12.5" text-anchor="middle">10</text>
<text x="265.83" y="757.6" font-size="12.5" text-anchor="middle">11</text>
<text x="307.10" y="757.6" font-size="12.5" text-anchor="middle">12</text>
<text x="348.37" y="757.6" font-size="12.5" text-anchor="middle">13</text>
<text x="389.63" y="757.6" font-size="12.5" text-anchor="middle">14</text>
<text x="430.90" y="757.6" font-size="12.5" text-anchor="middle">15</text>
<text x="472.17" y="757.6" font-size="12.5" text-anchor="middle">16</text>
<text x="513.43" y="757.6" font-size="12.5" text-anchor="middle">17</text>
<text x="554.70" y="757.6" font-size="12.5" text-anchor="middle">18</text>
<text x="595.97" y="757.6" font-size="12.5" text-anchor="middle">19</text>
<text x="637.23" y="757.6" font-size="12.5" text-anchor="middle">20</text>
<text x="369.2" y="776.3" font-size="12.5" text-anchor="middle" textLength="204.8" lengthAdjust="spacingAndGlyphs">Diameter of trapped particles (µm)</text>
<text transform="translate(23.4,630.8) rotate(-90)" font-size="12" text-anchor="middle" textLength="148.6" lengthAdjust="spacingAndGlyphs">Frequency (no. of beads)</text>
</g>
</svg></body></html>
